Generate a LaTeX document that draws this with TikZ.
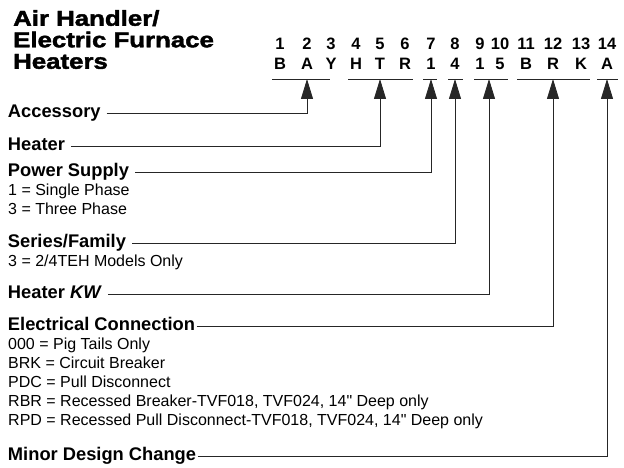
\documentclass[tikz,border=0pt]{standalone}
\usepackage{fontspec}
\setmainfont{Liberation Sans}
\newfontfamily\titlefont{Liberation Sans Bold}[FakeStretch=1.2,FakeBold=2]
\newfontfamily\descfont{Liberation Sans}
\usetikzlibrary{positioning,arrows.meta}

\begin{document}
\begin{tikzpicture}[
x=1pt, y=-1pt,
title/.style={anchor=north west, align=left, inner sep=0pt, font=\titlefont\fontsize{21.5}{21.5}\selectfont},
code/.style={align=center, inner sep=0pt, font=\bfseries\fontsize{16.5}{20}\selectfont},
field/.style={anchor=west, inner xsep=3pt, outer xsep=3pt, inner ysep=1pt, text height=13pt, text depth=4pt, font=\bfseries\fontsize{18.3}{20}\selectfont},
desc/.style={align=left, inner sep=0pt, font=\descfont\fontsize{16}{18.8}\selectfont},
bar/.style={black!85, line width=0.9pt},
lead/.style={black!85, line width=0.9pt, -{Triangle[length=20pt,width=12pt]}}]

\useasboundingbox (0,0) rectangle (624,468);

\node[title] (ttl) at (13,10) {Air Handler/\\Electric Furnace\\Heaters};

% model number columns
\node[code] (c1) at (280,54) {1\\B};
\node[code] (c2) at (307,54) {2\\A};
\node[code] (c3) at (331,54) {3\\Y};
\node[code] (c4) at (356,54) {4\\H};
\node[code] (c5) at (380,54) {5\\T};
\node[code] (c6) at (405,54) {6\\R};
\node[code] (c7) at (431,54) {7\\1};
\node[code] (c8) at (455,54) {8\\4};
\node[code] (c9) at (480,54) {9\\1};
\node[code] (c10) at (500,54) {10\\5};
\node[code] (c11) at (526,54) {11\\B};
\node[code] (c12) at (553,54) {12\\R};
\node[code] (c13) at (581,54) {13\\K};
\node[code] (c14) at (607,54) {14\\A};

\draw[bar] (272,79) -- (330,79);
\draw[bar] (348,79) -- (413,79);
\draw[bar] (423,79) -- (437,79);
\draw[bar] (448,79) -- (463,79);
\draw[bar] (474,79) -- (508,79);
\draw[bar] (517,79) -- (590,79);
\draw[bar] (597,79) -- (618,79);

\coordinate (t1) at (307,79);
\coordinate (t2) at (380,79);
\coordinate (t3) at (431,79);
\coordinate (t4) at (455,79);
\coordinate (t5) at (489,79);
\coordinate (t6) at (553,79);
\coordinate (t7) at (607,79);

% fields
\node[field] (acc) at (2,113) {Accessory};
\node[field] (htr) at (2,146) {Heater};
\node[field] (ps) at (2,172) {Power Supply};
\node[desc, below=2pt of ps.south west, anchor=north west, xshift=6pt] (psd) {1 = Single Phase\\3 = Three Phase};
\node[field] (sf) at (2,243) {Series/Family};
\node[desc, below=2.5pt of sf.south west, anchor=north west, xshift=6pt] (sfd) {3 = 2/4TEH Models Only};
\node[field] (kw) at (2,294) {Heater \textit{KW}};
\node[field, inner xsep=1.5pt, outer xsep=0pt] (ec) at (6.5,326) {Electrical Connection};
\node[desc, below=2.5pt of ec.south west, anchor=north west, xshift=1.5pt] (ecd) {000 = Pig Tails Only\\BRK = Circuit Breaker\\PDC = Pull Disconnect\\RBR = Recessed Breaker-TVF018, TVF024, 14" Deep only\\RPD = Recessed Pull Disconnect-TVF018, TVF024, 14" Deep only};
\node[field, inner xsep=1.5pt, outer xsep=0pt] (mdc) at (6.5,456) {Minor Design Change};

\draw[lead] (acc.east) -| (t1);
\draw[lead] (htr.east) -| (t2);
\draw[lead] (ps.east) -| (t3);
\draw[lead] (sf.east) -| (t4);
\draw[lead] (kw.east) -| (t5);
\draw[lead] (ec.east) -| (t6);
\draw[lead] (mdc.east) -| (t7);
\end{tikzpicture}
\end{document}
